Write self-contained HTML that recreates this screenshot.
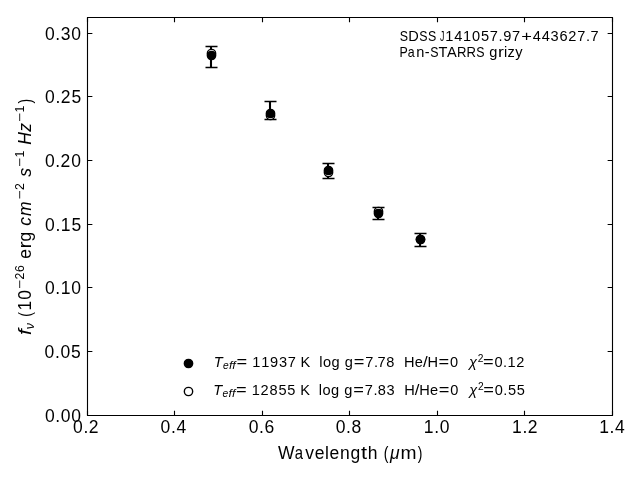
<!DOCTYPE html>
<html><head><meta charset="utf-8"><title>SED fit</title>
<style>html,body{margin:0;padding:0;background:#fff;}svg{display:block;will-change:transform;}text{font-family:"Liberation Sans",sans-serif;fill:#000;white-space:pre;font-kerning:none;font-variant-ligatures:none;}</style>
</head><body>
<svg width="640" height="480" viewBox="0 0 640 480">
<rect x="0" y="0" width="640" height="480" fill="#fff"/>
<path d="M87.5 33.5H92.36M612.5 33.5H607.64M87.5 96.5H92.36M612.5 96.5H607.64M87.5 160.5H92.36M612.5 160.5H607.64M87.5 224.5H92.36M612.5 224.5H607.64M87.5 287.5H92.36M612.5 287.5H607.64M87.5 351.5H92.36M612.5 351.5H607.64M87.5 415.5H92.36M612.5 415.5H607.64M87.5 415.5V410.64M87.5 17.5V22.36M174.5 415.5V410.64M174.5 17.5V22.36M262.5 415.5V410.64M262.5 17.5V22.36M349.5 415.5V410.64M349.5 17.5V22.36M437.5 415.5V410.64M437.5 17.5V22.36M524.5 415.5V410.64M524.5 17.5V22.36M612.5 415.5V410.64M612.5 17.5V22.36" stroke="#000" stroke-width="1.11" fill="none"/>
<path d="M87.5 415.5V17.5H612.5V415.5Z" stroke="#000" stroke-width="1.11" fill="none" stroke-linejoin="miter"/>
<path d="M211 46.5V67.5M270 101.5V119.5M328 163.5V178.5M378 207.5V219.5M420 233.5V246.5" stroke="#000" stroke-width="2.083" fill="none"/>
<path d="M205.5 46.5H217.5M205.5 67.5H217.5M264.5 101.5H276.5M264.5 119.5H276.5M322.5 163.5H334.5M322.5 178.5H334.5M372.5 207.5H384.5M372.5 219.5H384.5M414.5 233.5H426.5M414.5 246.5H426.5" stroke="#000" stroke-width="1.389" fill="none"/>
<g fill="#fff" stroke="#000" stroke-width="1.389"><circle cx="211.5" cy="53.5" r="4.167"/><circle cx="270.5" cy="115.5" r="4.167"/><circle cx="328.5" cy="172.5" r="4.167"/><circle cx="378.5" cy="211.5" r="4.167"/><circle cx="420.5" cy="239.5" r="4.167"/></g>
<g fill="#000" stroke="#000" stroke-width="1.389"><circle cx="211.5" cy="55.5" r="4.167"/><circle cx="270.5" cy="113.5" r="4.167"/><circle cx="328.5" cy="170.5" r="4.167"/><circle cx="378.5" cy="213.5" r="4.167"/><circle cx="420.5" cy="239.5" r="4.167"/></g>
<circle cx="188.5" cy="363.5" r="4.167" fill="#000" stroke="#000" stroke-width="1.389"/>
<circle cx="188.5" cy="391.5" r="4.167" fill="#fff" stroke="#000" stroke-width="1.389"/>
<g transform="translate(160.186 432.567)"><text x="0.43 10.79 16.29" y="0.00" font-size="17.50">0.4</text></g>
<g transform="translate(248.243 432.567)"><text x="0.43 10.79 16.29" y="0.00" font-size="17.50">0.6</text></g>
<g transform="translate(335.287 432.567)"><text x="0.43 10.79 16.29" y="0.00" font-size="17.50">0.8</text></g>
<g transform="translate(423.405 432.567)"><text x="0.34 10.79 16.29" y="0.00" font-size="17.50">1.0</text></g>
<g transform="translate(511.686 432.685)"><text x="0.34 10.79 16.07" y="0.00" font-size="17.50">1.2</text></g>
<g transform="translate(598.820 432.575)"><text x="0.34 10.79 16.29" y="0.00" font-size="17.50">1.4</text></g>
<g transform="translate(44.157 357.567)"><text x="0.43 10.79 16.29 26.81" y="0.00" font-size="17.50">0.05</text></g>
<g transform="translate(44.483 293.567)"><text x="0.43 10.79 16.20 26.87" y="0.00" font-size="17.50">0.10</text></g>
<g transform="translate(44.657 230.567)"><text x="0.43 10.79 16.20 26.81" y="0.00" font-size="17.50">0.15</text></g>
<g transform="translate(44.483 166.567)"><text x="0.43 10.79 16.07 26.87" y="0.00" font-size="17.50">0.20</text></g>
<g transform="translate(44.657 102.567)"><text x="0.43 10.79 16.07 26.81" y="0.00" font-size="17.50">0.25</text></g>
<g transform="translate(44.483 39.567)"><text x="0.43 10.79 16.32 26.87" y="0.00" font-size="17.50">0.30</text></g>
<g transform="translate(399.396 41.264)"><text transform="matrix(0.85 0 0 1 0 0)" x="0.41" y="0.00" font-size="14.58">S</text><text x="8.91" y="0.00" font-size="14.58">D</text><text transform="matrix(0.85 0 0 1 0 0)" x="23.34 33.70" y="0.00" font-size="14.58">SS</text><text transform="matrix(0.60 0 0 1 0 0)" x="67.65" y="0.00" font-size="14.58">J</text><text x="45.93 54.90 63.73 72.70 81.54 90.47 99.21 103.80 112.71" y="0.00" font-size="14.58">141057.97</text><text transform="matrix(1.25 0 0 1 0 0)" x="97.43" y="0.00" font-size="14.58">+</text><text x="133.36 142.26 151.18 160.06 168.77 177.83 186.57 191.18" y="0.00" font-size="14.58">443627.7</text></g>
<g transform="translate(399.119 56.832)"><text transform="matrix(0.85 0 0 1 0 0)" x="0.37 10.23" y="0.00" font-size="14.58">Pa</text><text x="17.25 25.74" y="0.00" font-size="14.58">n-</text><text transform="matrix(0.85 0 0 1 0 0)" x="36.49" y="0.00" font-size="14.58">S</text><text x="39.27 47.84" y="0.00" font-size="14.58">TA</text><text transform="matrix(0.90 0 0 1 0 0)" x="64.20 74.91" y="0.00" font-size="14.58">RR</text><text transform="matrix(0.85 0 0 1 0 0)" x="90.68" y="0.00" font-size="14.58">S</text><text x="90.21" y="0.00" font-size="14.58">g</text><text transform="matrix(1.20 0 0 1 0 0)" x="82.41" y="0.00" font-size="14.58">r</text><text x="104.77 108.38 116.05" y="0.00" font-size="14.58">izy</text></g>
<g transform="translate(277.901 459.813)"><text x="-0.02" y="-1.22" font-size="17.50">W</text><text transform="matrix(0.85 0 0 1 0 0)" x="19.86" y="-1.22" font-size="17.50">a</text><text x="27.25 36.85 47.18 51.73 62.15 72.58" y="-1.22" font-size="17.50">veleng</text><text transform="matrix(1.25 0 0 1 0 0)" x="66.40" y="-1.22" font-size="17.50">t</text><text x="89.80" y="-1.22" font-size="17.50">h</text><text transform="matrix(0.80 0 0 1 0 0)" x="132.26" y="-1.22" font-size="17.50">(</text><text x="112.09" y="-1.22" font-size="17.50" font-style="italic">μ</text><text transform="matrix(1.10 0 0 1 0 0)" x="111.35" y="-1.22" font-size="17.50">m</text><text transform="matrix(0.80 0 0 1 0 0)" x="174.80" y="-1.22" font-size="17.50">)</text></g>
<g transform="translate(31.025 335.390) rotate(-90)"><text transform="matrix(1.20 0 0 1 0 0)" x="0.31" y="-0.24" font-size="17.50" font-style="italic">f</text><text x="6.16" y="2.50" font-size="12.25" font-style="italic">ν</text><text transform="matrix(0.80 0 0 1 0 0)" x="23.39" y="-0.24" font-size="17.50">(</text><text x="24.98 35.68" y="-0.24" font-size="17.50">10</text><text transform="matrix(1.25 0 0 1 0 0)" x="37.14" y="-6.62" font-size="12.25">−</text><text x="55.93 63.51" y="-6.62" font-size="12.25">26</text><text x="76.68" y="-0.24" font-size="17.50">e</text><text transform="matrix(1.20 0 0 1 0 0)" x="72.33" y="-0.24" font-size="17.50">r</text><text x="93.81" y="-0.24" font-size="17.50">g</text><text x="109.65 119.34" y="-0.24" font-size="17.50" font-style="italic">cm</text><text transform="matrix(1.25 0 0 1 0 0)" x="108.76" y="-6.62" font-size="12.25">−</text><text x="145.46" y="-6.62" font-size="12.25">2</text><text x="158.53" y="-0.24" font-size="17.50" font-style="italic">s</text><text transform="matrix(1.25 0 0 1 0 0)" x="134.69" y="-6.62" font-size="12.25">−</text><text x="177.96" y="-6.62" font-size="12.25">1</text><text x="190.57 203.73" y="-0.24" font-size="17.50" font-style="italic">Hz</text><text transform="matrix(1.25 0 0 1 0 0)" x="170.67" y="-6.62" font-size="12.25">−</text><text x="222.94" y="-6.62" font-size="12.25">1</text><text transform="matrix(0.80 0 0 1 0 0)" x="289.80" y="-0.24" font-size="17.50">)</text></g>
<g transform="translate(214.277 368.175)"><text x="-0.55" y="-1.36" font-size="14.58" font-style="italic">T</text><text x="8.66" y="0.92" font-size="10.21" font-style="italic">e</text><text transform="matrix(1.20 0 0 1 0 0)" x="12.23 15.09" y="0.92" font-size="10.21" font-style="italic">ff</text><text transform="matrix(1.25 0 0 1 0 0)" x="17.75" y="-1.36" font-size="14.58">=</text><text x="38.03 46.86 55.73 64.63 73.42 76.42 86.34 89.34 92.34 104.89 108.63 117.20 120.20 130.43" y="-1.36" font-size="14.58">11937 K  log g</text><text transform="matrix(1.25 0 0 1 0 0)" x="111.59" y="-1.36" font-size="14.58">=</text><text x="150.95 159.63 163.16 172.02 175.02 178.02 189.78 200.52" y="-1.36" font-size="14.58">7.78  He</text><text transform="matrix(1.15 0 0 1 0 0)" x="181.59" y="-1.36" font-size="14.58">/</text><text x="213.28" y="-1.36" font-size="14.58">H</text><text transform="matrix(1.25 0 0 1 0 0)" x="179.42" y="-1.36" font-size="14.58">=</text><text x="235.77" y="-1.36" font-size="14.58">0</text><text x="254.74" y="-1.36" font-size="14.58" font-style="italic">χ</text><text x="263.44" y="-6.67" font-size="10.21">2</text><text transform="matrix(1.25 0 0 1 0 0)" x="214.94" y="-1.36" font-size="14.58">=</text><text x="280.18 288.83 293.35 302.08" y="-1.36" font-size="14.58">0.12</text></g>
<g transform="translate(213.841 396.175)"><text x="-0.55" y="-1.36" font-size="14.58" font-style="italic">T</text><text x="8.66" y="0.92" font-size="10.21" font-style="italic">e</text><text transform="matrix(1.20 0 0 1 0 0)" x="12.23 15.09" y="0.92" font-size="10.21" font-style="italic">ff</text><text transform="matrix(1.25 0 0 1 0 0)" x="17.75" y="-1.36" font-size="14.58">=</text><text x="38.03 46.76 55.78 64.56 73.39 76.39 86.34 89.34 92.34 104.89 108.63 117.20 120.20 130.43" y="-1.36" font-size="14.58">12855 K  log g</text><text transform="matrix(1.25 0 0 1 0 0)" x="111.59" y="-1.36" font-size="14.58">=</text><text x="150.95 159.63 163.88 172.74 175.74 178.74 190.48" y="-1.36" font-size="14.58">7.83  H</text><text transform="matrix(1.15 0 0 1 0 0)" x="174.76" y="-1.36" font-size="14.58">/</text><text x="205.43 216.16" y="-1.36" font-size="14.58">He</text><text transform="matrix(1.25 0 0 1 0 0)" x="179.97" y="-1.36" font-size="14.58">=</text><text x="236.46" y="-1.36" font-size="14.58">0</text><text x="255.43" y="-1.36" font-size="14.58" font-style="italic">χ</text><text x="264.13" y="-6.67" font-size="10.21">2</text><text transform="matrix(1.25 0 0 1 0 0)" x="215.50" y="-1.36" font-size="14.58">=</text><text x="280.87 289.52 294.07 302.90" y="-1.36" font-size="14.58">0.55</text></g>
<g transform="translate(72.686 432.567)"><text x="0.43 10.79 16.07" y="0.00" font-size="17.50">0.2</text></g>
<g transform="translate(44.483 421.567)"><text x="0.43 10.79 16.29 26.87" y="0.00" font-size="17.50">0.00</text></g>
</svg>
</body></html>
